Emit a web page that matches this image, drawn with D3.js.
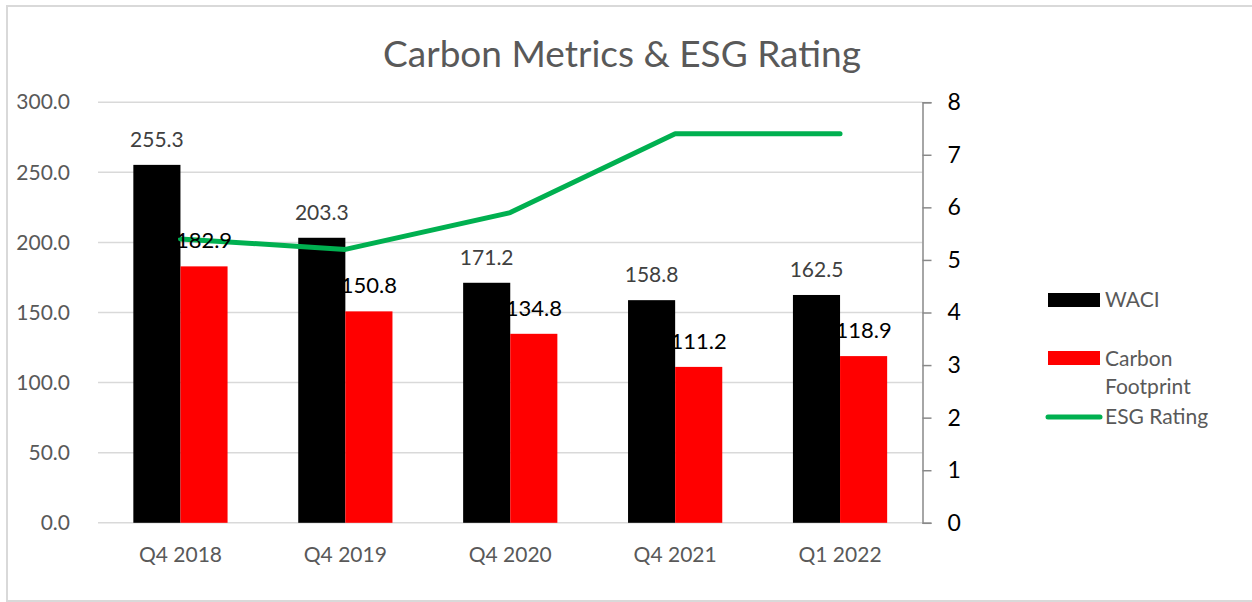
<!DOCTYPE html>
<html>
<head>
<meta charset="utf-8">
<script src="https://cdn.jsdelivr.net/npm/d3@7"></script>
<style>
  html, body { margin: 0; padding: 0; background: #fff; }
  svg { display: block; font-family: Lato, "Open Sans", sans-serif; }
</style>
</head>
<body>
<svg id="chart" width="1252" height="602"></svg>
<script>
const categories = ["Q4 2018", "Q4 2019", "Q4 2020", "Q4 2021", "Q1 2022"];
const waci = [255.3, 203.3, 171.2, 158.8, 162.5];
const carbonFootprint = [182.9, 150.8, 134.8, 111.2, 118.9];
const esgRating = [5.4, 5.2, 5.9, 7.4, 7.4];
const leftTicks = [0, 50, 100, 150, 200, 250, 300];
const rightTicks = [0, 1, 2, 3, 4, 5, 6, 7, 8];
const seriesNames = ["WACI", "Carbon Footprint", "ESG Rating"];

const svg = d3.select("#chart");
const plot = { left: 98, right: 922.5, top: 102.2, bottom: 522.8 };

// chart border
svg.append("rect").attr("x", 7).attr("y", 6).attr("width", 1270).attr("height", 595)
  .attr("fill", "#fff").attr("stroke", "#d9d9d9").attr("stroke-width", 2);

const x = d3.scaleBand().domain(categories).range([plot.left, plot.right]).paddingInner(0.4286).paddingOuter(0.2143);
const xs = d3.scaleBand().domain([0, 1]).range([0, x.bandwidth()]);
const yL = d3.scaleLinear().domain([0, 300]).range([plot.bottom, plot.top]);
const yR = d3.scaleLinear().domain([0, 8]).range([plot.bottom, plot.top]);

// title
svg.append("text").attr("x", 622).attr("y", 67).attr("text-anchor", "middle")
  .attr("font-size", 37).attr("fill", "#595959").text("Carbon Metrics & ESG Rating");

// gridlines
svg.append("g").selectAll("line").data(leftTicks).join("line")
  .attr("x1", plot.left).attr("x2", plot.right)
  .attr("y1", d => yL(d)).attr("y2", d => yL(d))
  .attr("stroke", "#d9d9d9").attr("stroke-width", 1.5);

// left axis labels
const gL = svg.append("g").attr("transform", `translate(${plot.left},0)`)
  .call(d3.axisLeft(yL).tickValues(leftTicks).tickFormat(d3.format(".1f")).tickSize(0).tickPadding(28));
gL.select(".domain").remove();
gL.selectAll("text").attr("font-family", "Lato").attr("font-size", 21).attr("fill", "#595959");

// right axis
const gR = svg.append("g").attr("transform", `translate(${plot.right},0)`)
  .call(d3.axisRight(yR).tickValues(rightTicks).tickFormat(d3.format("d")).tickSizeInner(9).tickSizeOuter(9).tickPadding(16));
gR.select(".domain").attr("stroke", "#898989").attr("stroke-width", 1.5);
gR.selectAll(".tick line").attr("stroke", "#898989").attr("stroke-width", 1.5);
gR.selectAll("text").attr("font-family", "Lato").attr("font-size", 23).attr("fill", "#000");

// bottom axis
const gB = svg.append("g").attr("transform", `translate(0,${plot.bottom})`)
  .call(d3.axisBottom(x).tickSize(0).tickPadding(24));
gB.select(".domain").remove();
gB.selectAll("text").attr("font-family", "Lato").attr("font-size", 21).attr("fill", "#595959");

// bars
const series = [
  { name: seriesNames[0], values: waci, color: "#000000", labelColor: "#404040", labelSize: 21 },
  { name: seriesNames[1], values: carbonFootprint, color: "#ff0000", labelColor: "#000000", labelSize: 22 }
];
series.forEach((s, si) => {
  svg.append("g").selectAll("rect").data(s.values).join("rect")
    .attr("x", (d, i) => x(categories[i]) + xs(si))
    .attr("width", xs.bandwidth())
    .attr("y", d => yL(d))
    .attr("height", d => yL(0) - yL(d))
    .attr("fill", s.color);
});

// ESG line
const line = d3.line().x((d, i) => x(categories[i]) + x.bandwidth() / 2).y(d => yR(d));
svg.append("path").datum(esgRating).attr("d", line)
  .attr("fill", "none").attr("stroke", "#00b050").attr("stroke-width", 5)
  .attr("stroke-linecap", "round").attr("stroke-linejoin", "round");

// data labels
series.forEach((s, si) => {
  svg.append("g").selectAll("text").data(s.values).join("text")
    .attr("x", (d, i) => x(categories[i]) + xs(si) + xs.bandwidth() / 2)
    .attr("y", d => yL(d) - 18)
    .attr("text-anchor", "middle")
    .attr("font-size", s.labelSize).attr("fill", s.labelColor)
    .text(d => d3.format(".1f")(d));
});

// legend
const lg = svg.append("g");
lg.append("rect").attr("x", 1048).attr("y", 293).attr("width", 52).attr("height", 14).attr("fill", "#000");
lg.append("text").attr("x", 1105).attr("y", 307).attr("font-size", 21).attr("fill", "#595959").text(seriesNames[0]);
lg.append("rect").attr("x", 1048).attr("y", 351).attr("width", 52).attr("height", 14).attr("fill", "#ff0000");
const cf = seriesNames[1].split(" ");
lg.append("text").attr("x", 1105).attr("y", 366).attr("font-size", 21).attr("fill", "#595959").text(cf[0]);
lg.append("text").attr("x", 1105).attr("y", 394).attr("font-size", 21).attr("fill", "#595959").text(cf[1]);
lg.append("line").attr("x1", 1048).attr("x2", 1100).attr("y1", 417).attr("y2", 417)
  .attr("stroke", "#00b050").attr("stroke-width", 5).attr("stroke-linecap", "round");
lg.append("text").attr("x", 1105).attr("y", 424).attr("font-size", 21).attr("fill", "#595959").text(seriesNames[2]);
</script>
</body>
</html>
